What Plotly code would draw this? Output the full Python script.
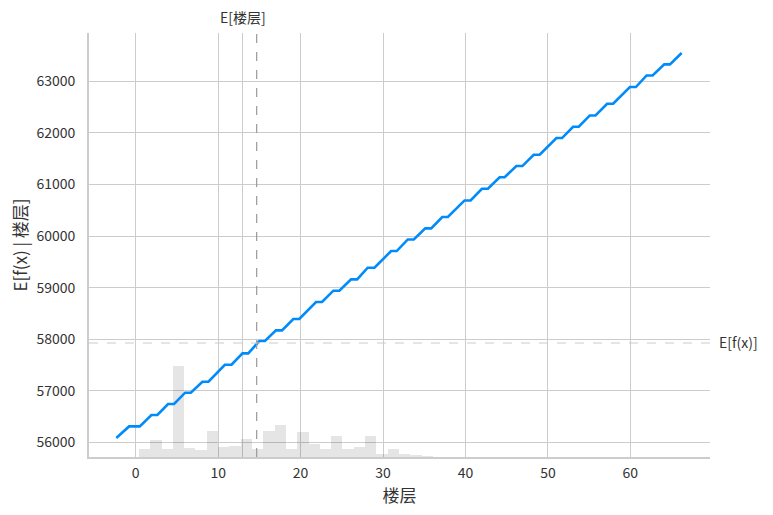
import numpy as np
import plotly.graph_objects as go

# Partial dependence line (feature value, expected model output)
feature_x = [-2.36, -0.81, 0.49, 1.90, 2.62, 3.92, 4.65, 5.99, 6.68, 8.09, 8.82, 10.81, 11.62,
             12.95, 13.65, 14.99, 15.67, 17.01, 17.74, 19.11, 19.84, 21.87, 22.60, 23.97, 24.70,
             26.12, 26.85, 28.14, 28.96, 30.98, 31.66, 33.00, 33.73, 35.12, 35.84, 37.18, 37.86,
             39.89, 40.62, 41.99, 42.72, 44.14, 44.75, 46.17, 46.90, 48.27, 49.00, 51.03, 51.71,
             53.05, 53.74, 55.08, 55.77, 57.18, 57.91, 59.94, 60.67, 61.97, 62.70, 64.11, 64.80, 66.22]
pd_y = [56085, 56310, 56310, 56531, 56531, 56745, 56745, 56964, 56964, 57177, 57177, 57506, 57506,
        57726, 57726, 57966, 57966, 58172, 58172, 58393, 58393, 58722, 58722, 58942, 58942,
        59161, 59161, 59388, 59388, 59711, 59711, 59936, 59936, 60150, 60150, 60371, 60371,
        60692, 60692, 60919, 60919, 61142, 61142, 61359, 61359, 61578, 61578, 61902, 61902,
        62121, 62121, 62340, 62340, 62567, 62567, 62891, 62891, 63116, 63116, 63330, 63330, 63551]

# Histogram of the feature (50 bins over the line's range)
hist_counts = [0, 0, 8, 17, 8, 91, 9, 7, 26, 10, 11, 18, 8, 26, 32, 8, 25, 13, 8, 21, 8, 10, 21,
               3, 8, 3, 2, 1] + [0] * 22
hist_min, hist_max = -2.36, 66.22

x_ticks = [0, 10, 20, 30, 40, 50, 60]
y_ticks = [56000, 57000, 58000, 59000, 60000, 61000, 62000, 63000]
feature_mean_tick = 13.0
feature_mean = 14.67
expected_fx = 57928
feature_name = "楼层"

edges = np.linspace(hist_min, hist_max, len(hist_counts) + 1)
centers = (edges[:-1] + edges[1:]) / 2
bw = edges[1] - edges[0]

FONT = "Noto Sans CJK SC"
GRID = "#cccccc"
TXT = "#333333"
TICK_SIZE = 14
TITLE_SIZE = 17
xr = [-5.67, 69.66]
yr = [55717, 63939]

fig = go.Figure()
fig.add_trace(go.Bar(x=centers, y=hist_counts, width=bw, marker=dict(color="rgba(0,0,0,0.1)", line=dict(width=0)),
                     xaxis="x", yaxis="y", showlegend=False, hoverinfo="skip"))
fig.add_trace(go.Scatter(x=feature_x, y=pd_y, mode="lines", line=dict(color="#008bfb", width=2.6),
                         xaxis="x", yaxis="y2", showlegend=False))
# invisible anchor so the secondary (top / right) axes are drawn
fig.add_trace(go.Scatter(x=[feature_mean_tick], y=[expected_fx], mode="markers", opacity=0,
                         xaxis="x2", yaxis="y3", showlegend=False, hoverinfo="skip"))

fig.update_layout(
    width=773, height=515,
    margin=dict(l=89, r=63, t=33, b=58),
    paper_bgcolor="white", plot_bgcolor="white",
    font=dict(family=FONT, size=TICK_SIZE, color=TXT),
    bargap=0,
    xaxis=dict(range=xr, tickvals=x_ticks, showgrid=True, gridcolor=GRID, gridwidth=1,
               showline=True, linecolor=GRID, linewidth=1.8, zeroline=False, ticks="",
               ticklabelstandoff=2, tickfont=dict(size=TICK_SIZE, color=TXT), automargin=False,
               title=dict(text=feature_name, font=dict(size=TITLE_SIZE, color=TXT), standoff=2)),
    xaxis2=dict(range=xr, overlaying="x", side="top", anchor="y3", tickvals=[feature_mean_tick],
                ticktext=["E[" + feature_name + "]"], showgrid=True, gridcolor=GRID, gridwidth=1,
                zeroline=False, showline=False, ticks="", ticklabelstandoff=6, automargin=False,
                tickfont=dict(size=TICK_SIZE, color=TXT)),
    yaxis=dict(range=[0, 424], visible=False, showgrid=False, zeroline=False, fixedrange=True),
    yaxis2=dict(range=yr, overlaying="y", side="left", tickvals=y_ticks, tickformat="d", showgrid=True,
                gridcolor=GRID, gridwidth=1, showline=True, linecolor=GRID, linewidth=1.8,
                zeroline=False, ticks="", ticklabelstandoff=9, tickfont=dict(size=TICK_SIZE, color=TXT),
                automargin=False,
                title=dict(text="E[f(x) | " + feature_name + "]", font=dict(size=TITLE_SIZE, color=TXT), standoff=4)),
    yaxis3=dict(range=yr, overlaying="y", side="right", anchor="x2", tickvals=[expected_fx],
                ticktext=["E[f(x)]"], showgrid=False, zeroline=False, showline=False, ticks="",
                ticklabelstandoff=8, tickfont=dict(size=TICK_SIZE, color=TXT), automargin=False),
)

fig.add_shape(type="line", xref="x", yref="y2 domain", x0=feature_mean, x1=feature_mean, y0=0, y1=1,
              line=dict(color="#999999", width=1.2, dash="dash"))
fig.add_shape(type="line", xref="x domain", yref="y2", x0=0, x1=1, y0=expected_fx, y1=expected_fx,
              line=dict(color="#cccccc", width=1.2, dash="dash"))

fig.write_html("out.html", config={"displayModeBar": False},
               post_script="document.body.style.margin='0';")
